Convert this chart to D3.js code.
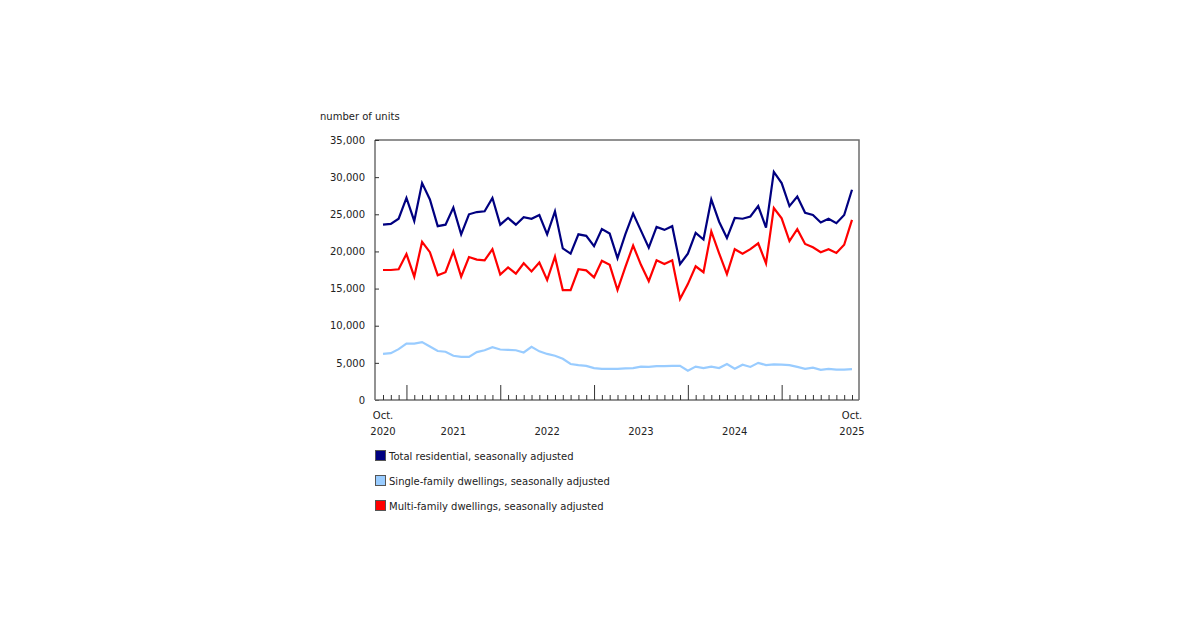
<!DOCTYPE html>
<meta charset="utf-8">
<style>
body { margin: 0; background: #fff; }
text { font-family: "DejaVu Sans", Verdana, sans-serif; font-size: 10px; fill: #222; }
.frame { fill: none; stroke: #6e6e6e; stroke-width: 1.5px; }
.axis path { stroke: #6e6e6e; stroke-width: 1.5px; }
.axis line { stroke: #333; }
.series { fill: none; stroke-width: 2.2px; stroke-linejoin: miter; }
</style>
<svg width="1200" height="630"></svg>
<script src="https://d3js.org/d3.v7.min.js"></script>
<script>

// monthly, Oct. 2020 .. Oct. 2025 (thousands of units)
var startYear = 2020, startMonth = 9;

var total = [23.6, 23.7, 24.4, 27.2, 24.1, 29.2, 27.0, 23.4, 23.6, 25.9, 22.3, 25.0,
             25.3, 25.4, 27.2, 23.6, 24.5, 23.6, 24.6, 24.4, 24.9, 22.3, 25.4, 20.4,
             19.7, 22.3, 22.1, 20.7, 23.0, 22.4, 19.1, 22.3, 25.1, 22.8, 20.5, 23.3,
             22.9, 23.4, 18.3, 19.7, 22.5, 21.6, 27.0, 24.0, 21.8, 24.5, 24.4, 24.7,
             26.1, 23.2, 30.7, 29.2, 26.1, 27.4, 25.2, 24.9, 23.9, 24.4, 23.8, 24.9,
             28.3];

var single = [6.2, 6.3, 6.85, 7.6, 7.6, 7.8, 7.2, 6.6, 6.5, 5.95, 5.8, 5.8,
              6.45, 6.7, 7.1, 6.8, 6.75, 6.7, 6.4, 7.15, 6.55, 6.2, 5.95, 5.55,
              4.85, 4.7, 4.6, 4.3, 4.2, 4.2, 4.2, 4.25, 4.3, 4.5, 4.45, 4.55,
              4.55, 4.6, 4.6, 3.95, 4.5, 4.3, 4.5, 4.3, 4.85, 4.2, 4.75, 4.45,
              5.0, 4.7, 4.8, 4.75, 4.7, 4.45, 4.2, 4.35, 4.05, 4.2, 4.1, 4.1,
              4.15];

var multi = [17.5, 17.5, 17.6, 19.65, 16.6, 21.3, 19.9, 16.8, 17.2, 20.0, 16.6, 19.25,
             18.9, 18.8, 20.3, 16.9, 17.85, 17.0, 18.4, 17.3, 18.5, 16.15, 19.3, 14.8,
             14.8, 17.6, 17.45, 16.5, 18.75, 18.2, 14.8, 17.9, 20.8, 18.2, 16.0, 18.8,
             18.3, 18.8, 13.6, 15.6, 18.0, 17.2, 22.7, 19.75, 16.95, 20.3, 19.7, 20.3,
             21.1, 18.4, 25.85, 24.45, 21.4, 23.0, 21.0, 20.55, 19.9, 20.3, 19.8, 20.9,
             24.25];

var yTicks = [0, 5000, 10000, 15000, 20000, 25000, 30000, 35000];
var yearLabels = ["2021", "2022", "2023", "2024"];

var seriesNames = ["Total residential, seasonally adjusted",
                   "Single-family dwellings, seasonally adjusted",
                   "Multi-family dwellings, seasonally adjusted"];
var seriesColors = ["#000080", "#99ccff", "#ff0000"];
var seriesData = [total, single, multi];

var svg = d3.select("svg");

var plotLeft = 375, plotRight = 859, plotTop = 140, plotBottom = 400;
var n = total.length;

var x = d3.scaleLinear().domain([0, n - 1]).range([383, 852]);
var y = d3.scaleLinear().domain([0, 35000]).range([plotBottom, plotTop]);

// frame (top and right sides)
svg.append("path")
    .attr("class", "frame")
    .attr("d", "M" + plotLeft + "," + plotTop + "H" + plotRight + "V" + plotBottom);

// y axis, ticks pointing inward
var yAxis = svg.append("g")
    .attr("class", "axis")
    .attr("transform", "translate(" + plotLeft + ",0)")
    .call(d3.axisLeft(y).tickValues(yTicks)
        .tickFormat(d3.format(",")).tickSizeInner(-4).tickSizeOuter(0).tickPadding(10));
yAxis.selectAll("text").style("font-size", "10px").attr("fill", "#222");
yAxis.select(".domain").attr("d", "M0," + plotTop + "V" + plotBottom);

// x axis: minor tick each month, major tick each January
var months = d3.range(n);
var xAxis = svg.append("g")
    .attr("class", "axis")
    .attr("transform", "translate(0," + plotBottom + ")")
    .call(d3.axisBottom(x).tickValues(months).tickFormat("")
        .tickSizeInner(-5).tickSizeOuter(0));
xAxis.selectAll(".tick line")
    .attr("y2", function(d) { return (startMonth + d) % 12 === 0 ? -15 : -5; });
xAxis.select(".domain").attr("d", "M" + plotLeft + ",0H" + plotRight);

// x labels
function monthIndex(year, month) { return (year - startYear) * 12 + month - startMonth; }

var edge = [{i: 0, year: "2020"}, {i: n - 1, year: "2025"}];
edge.forEach(function(e) {
  svg.append("text").attr("x", x(e.i)).attr("y", 419)
      .attr("text-anchor", "middle").text("Oct.");
  svg.append("text").attr("x", x(e.i)).attr("y", 435)
      .attr("text-anchor", "middle").text(e.year);
});
yearLabels.forEach(function(yl) {
  var mid = (x(monthIndex(+yl, 0)) + x(monthIndex(+yl + 1, 0))) / 2;
  svg.append("text").attr("x", mid).attr("y", 435)
      .attr("text-anchor", "middle").text(yl);
});

// y axis title
svg.append("text").attr("x", 320).attr("y", 120).text("number of units");

// lines
var line = d3.line()
    .x(function(d, i) { return x(i); })
    .y(function(d) { return y(d * 1000); });

[0, 2, 1].forEach(function(k) {
  svg.append("path")
      .attr("class", "series")
      .attr("stroke", seriesColors[k])
      .attr("d", line(seriesData[k]));
});

// legend
var legend = svg.append("g").attr("transform", "translate(375,450)");
seriesNames.forEach(function(name, k) {
  var g = legend.append("g").attr("transform", "translate(0," + k * 25 + ")");
  g.append("rect").attr("x", 0.5).attr("y", 0.5).attr("width", 10).attr("height", 10)
      .attr("fill", seriesColors[k]).attr("stroke", "#555").attr("stroke-width", 1);
  g.append("text").attr("x", 14).attr("y", 9.5).text(name);
});

</script>
